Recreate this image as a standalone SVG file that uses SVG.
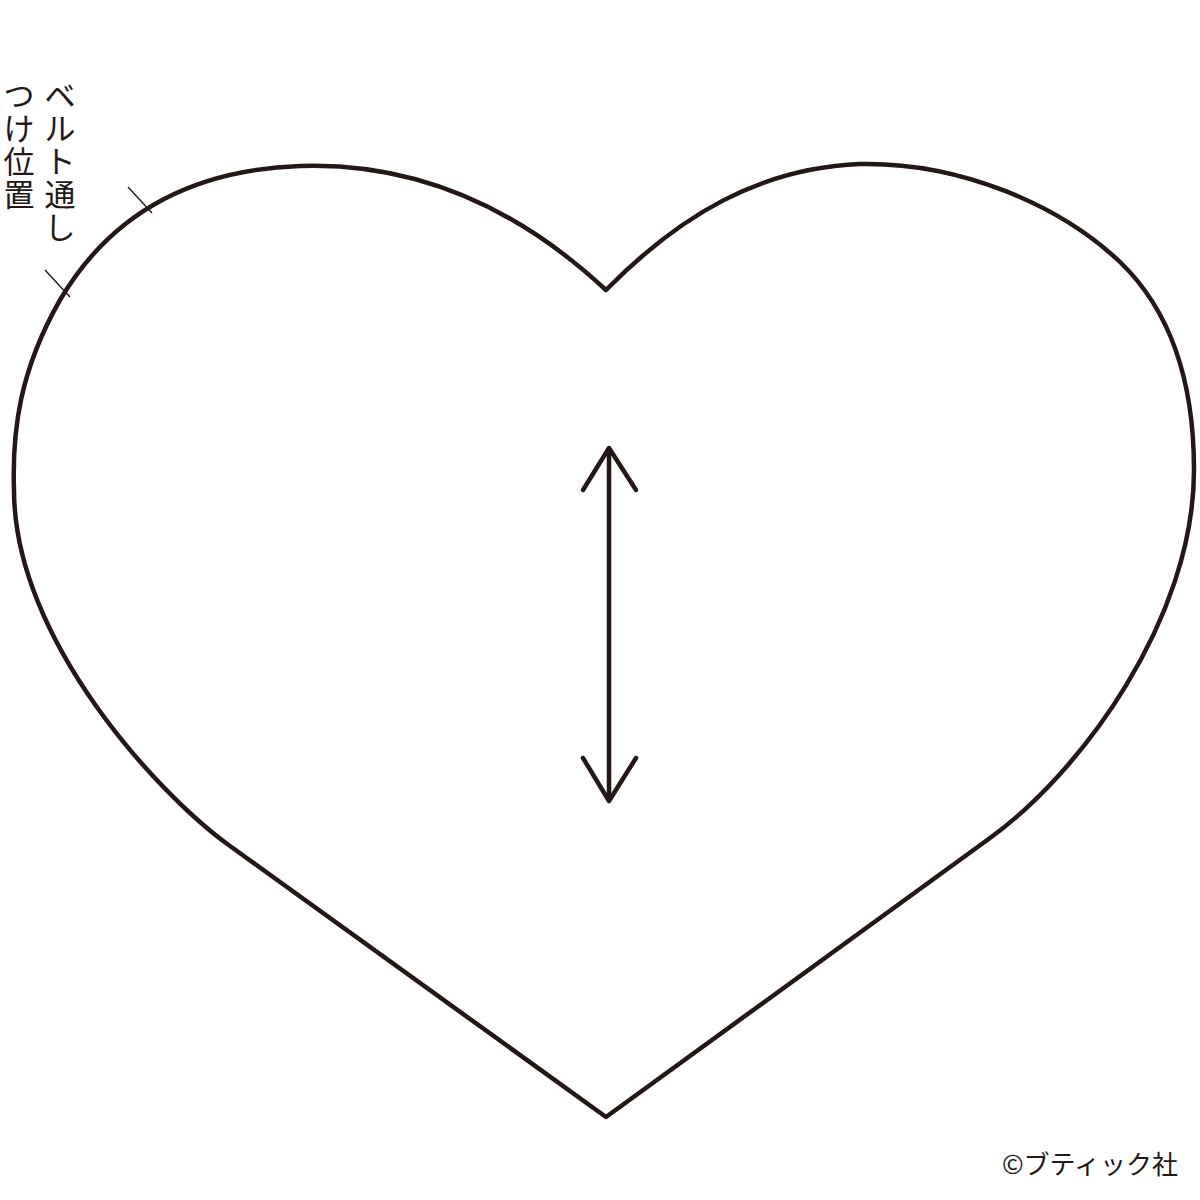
<svg xmlns="http://www.w3.org/2000/svg" width="1200" height="1200" viewBox="0 0 1200 1200">
<style>
.outline{fill:none;stroke:#231815;stroke-width:4.5;stroke-linejoin:round}
.arrow{fill:none;stroke:#231815;stroke-width:4.5;stroke-linecap:round;stroke-linejoin:round}
.tick{stroke:#231815;stroke-width:1.4}
.vt{font-family:"Noto Sans CJK JP","Noto Sans",sans-serif;font-size:31px;fill:#231815;text-anchor:middle}
.copy{font-family:"Noto Sans CJK JP","Noto Sans",sans-serif;font-size:26px;fill:#231815}
</style>
<rect width="1200" height="1200" fill="#ffffff"/>
<g id="heart">
<path class="outline" d="M606,290 C520,210 420,162 300,166 C190,170 110,215 60,300 C20,370 12,430 14,490 C14,640 160,796 230,846 L606,1117 L990,838 C1080,773 1194,620 1194,470 C1194,380 1170,310 1120,262 C1060,205 960,162 860,164 C760,168 680,215 606,290 Z"/>
</g>
<g id="ticks">
<line class="tick" x1="128" y1="187" x2="152" y2="213"/>
<line class="tick" x1="45" y1="270" x2="70" y2="297"/>
</g>
<g id="connectors">
<g id="grainline">
<line class="arrow" x1="609" y1="450" x2="609" y2="799"/>
<polyline class="arrow" points="583,490 609,448 636,490"/>
<polyline class="arrow" points="583,758 609,801 636,758"/>
</g>
</g>
<g id="label-belt">
<text class="vt" x="60" y="107"><tspan x="60">ベ</tspan><tspan x="60" dy="33">ル</tspan><tspan x="60" dy="33">ト</tspan><tspan x="60" dy="33">通</tspan><tspan x="60" dy="33">し</tspan></text>
<text class="vt" x="19" y="107"><tspan x="19">つ</tspan><tspan x="19" dy="33">け</tspan><tspan x="19" dy="33">位</tspan><tspan x="19" dy="33">置</tspan></text>
</g>
<g id="copyright">
<text class="copy" x="1178" y="1174" text-anchor="end">©ブティック社</text>
</g>
</svg>
